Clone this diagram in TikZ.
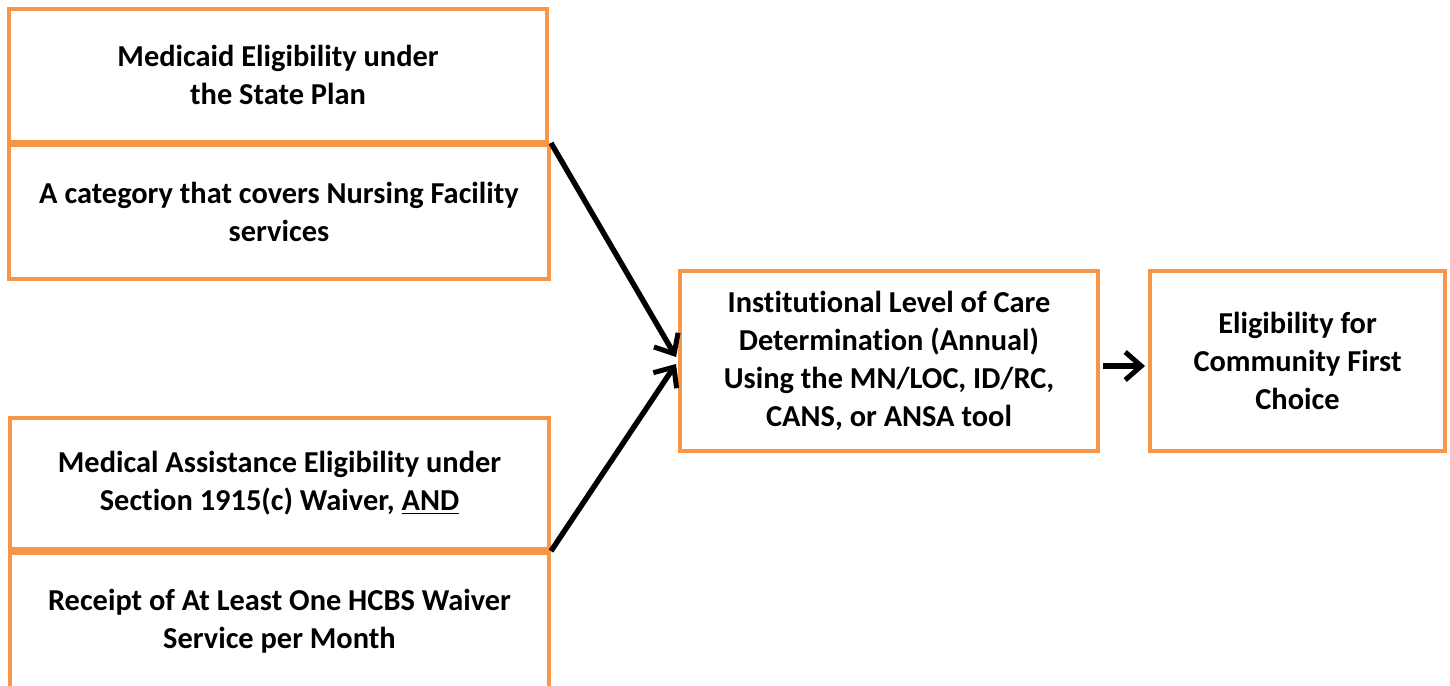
\documentclass[tikz,border=0pt]{standalone}
\usepackage{fontspec}
\setmainfont[Ligatures={NoCommon}]{Carlito}
\usetikzlibrary{arrows.meta,calc}
\definecolor{boxorange}{RGB}{247,150,70}
\tikzset{
  obox/.style={draw=boxorange, line width=2pt, fill=white, align=center,
    inner sep=0pt, font=\fontsize{15.2}{18.9}\selectfont\bfseries},
  conn/.style={draw=black, line width=2.7pt,
    -{Straight Barb[length=8pt,width=14pt,line width=2.5pt]}}
}
\begin{document}
\begin{tikzpicture}[x=0.5pt,y=-0.5pt]
\useasboundingbox (0,0) rectangle (1450,685);
\node[obox, minimum width=269pt, minimum height=66.5pt] (b1) at (278,75)
  {Medicaid Eligibility under\\the State Plan};
\node[obox, minimum width=270pt, minimum height=67pt] (b2) at (279,212)
  {A category that covers Nursing Facility\\services};
\node[obox, minimum width=269.5pt, minimum height=65.5pt] (b3) at (279.5,483.5)
  {Medical Assistance Eligibility under\\Section 1915(c) Waiver, \underline{AND}};
\node[obox, minimum width=269.5pt, minimum height=68pt] (b4) at (279.5,621)
  {Receipt of At Least One HCBS Waiver\\Service per Month};
\node[obox, minimum width=209pt, minimum height=90pt] (c) at (889,361)
  {Institutional Level of Care\\Determination (Annual)\\Using the MN/LOC, ID/RC,\\CANS, or ANSA tool};
\node[obox, minimum width=147.5pt, minimum height=90pt] (r) at (1297.5,361)
  {Eligibility for\\Community First\\Choice};
\draw[conn] (b2.north east) -- ($(c.west)+(-2,-4)$);
\draw[conn] (b3.south east) -- ($(c.west)+(-2,3)$);
\draw[conn] ($(c.east)+(3,5)$) -- ($(r.west)+(-3,5)$);
\end{tikzpicture}
\end{document}
